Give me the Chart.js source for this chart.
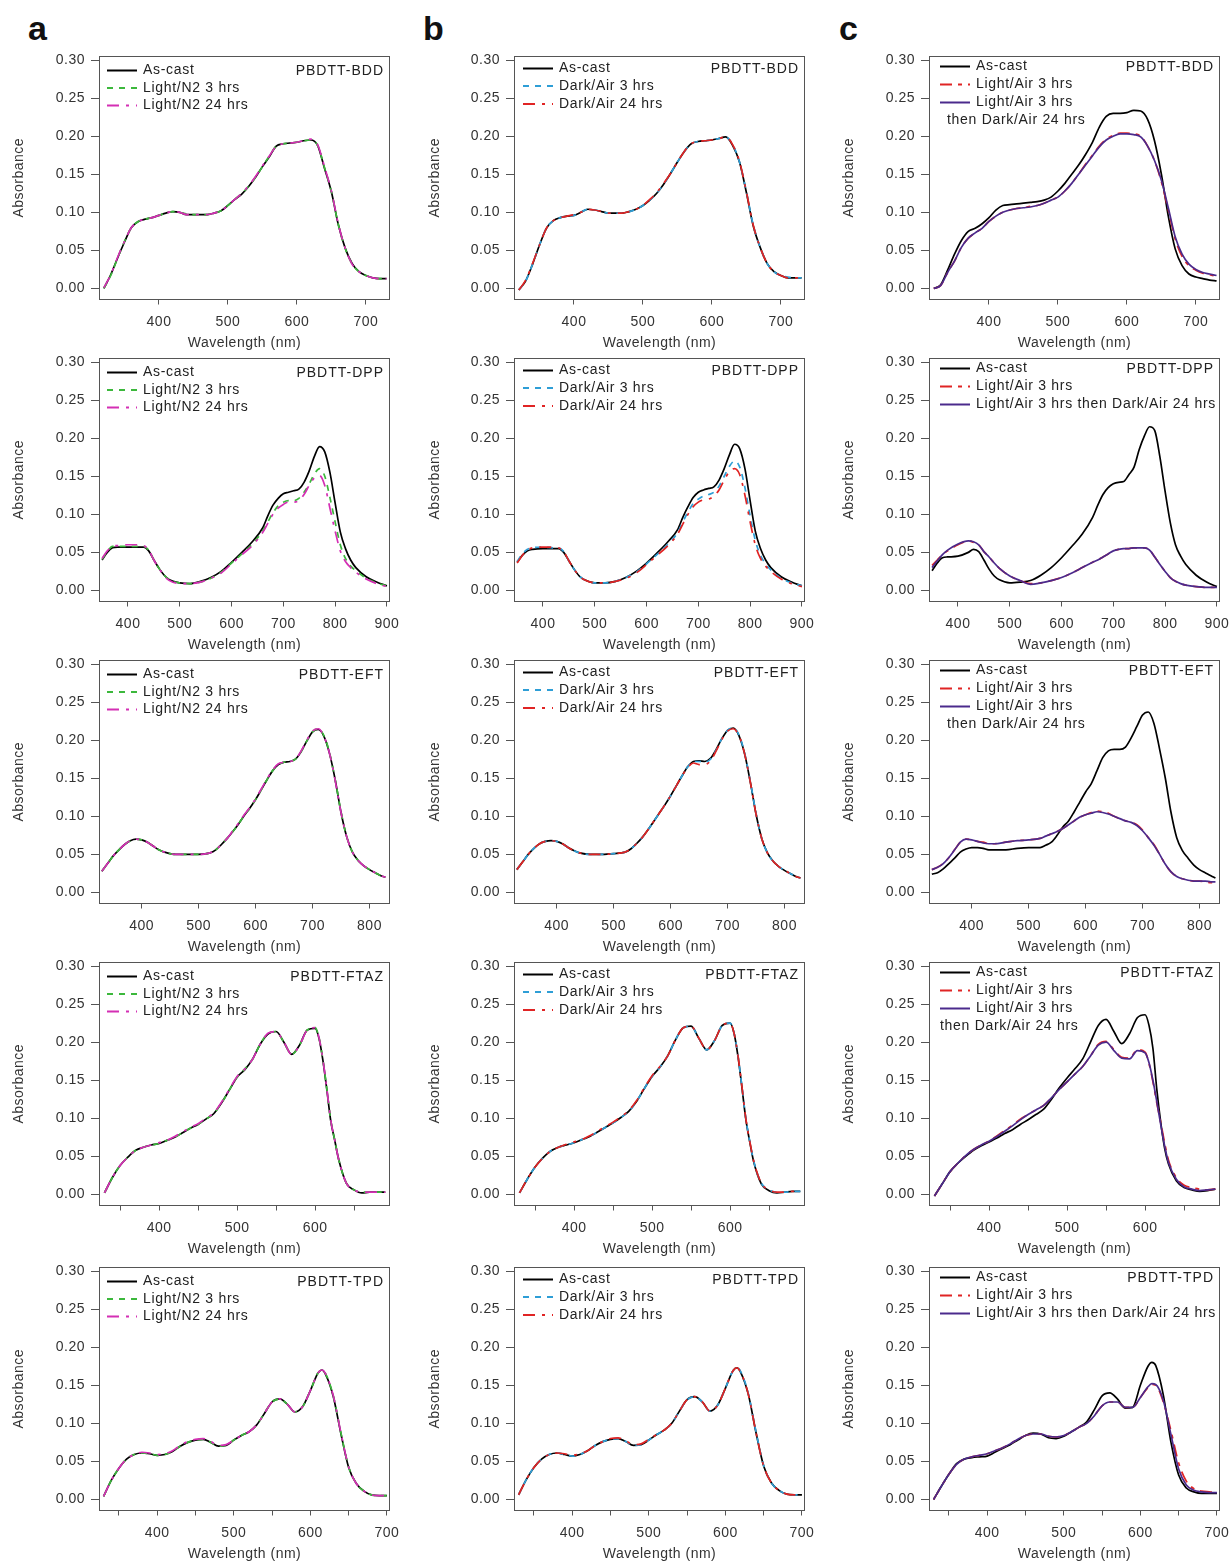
<!DOCTYPE html>
<html lang="en">
<head>
<meta charset="UTF-8">
<title>Absorbance spectra</title>
<script src="https://cdn.jsdelivr.net/npm/chart.js@4.4.0/dist/chart.umd.min.js"></script>
<style>
  body { margin:0; background:#fff; width:1229px; height:1562px; overflow:hidden; position:relative;
         font-family:"Liberation Sans", Arial, sans-serif; }
  .panel { position:absolute; }
  .tag { position:absolute; font-size:34px; font-weight:bold; line-height:1; color:#111; }
</style>
</head>
<body>
<div class="tag" style="left:28px;top:11px">a</div>
<div class="tag" style="left:423px;top:11px">b</div>
<div class="tag" style="left:839px;top:11px">c</div>

<script>
// ---- data ----
const yTicks = [0, 0.05, 0.10, 0.15, 0.20, 0.25, 0.30];

// PBDTT-BDD
const bddWl = [320,330,340,350,360,370,380,390,400,410,420,430,440,450,460,470,480,490,500,510,520,530,540,550,560,570,580,590,600,610,620,630,640,650,660,670,680,690,700,710,720,730];
const bddCastA = [0.000,0.018,0.040,0.061,0.080,0.088,0.091,0.093,0.096,0.099,0.101,0.100,0.097,0.097,0.097,0.097,0.099,0.102,0.109,0.117,0.124,0.134,0.146,0.160,0.173,0.187,0.190,0.191,0.192,0.194,0.195,0.188,0.158,0.127,0.084,0.053,0.033,0.022,0.017,0.014,0.013,0.013];
const bddN2h3  = [0.000,0.017,0.040,0.062,0.080,0.088,0.091,0.093,0.096,0.099,0.101,0.100,0.098,0.097,0.097,0.097,0.099,0.102,0.109,0.117,0.125,0.134,0.146,0.160,0.174,0.187,0.190,0.191,0.192,0.194,0.195,0.188,0.159,0.127,0.084,0.053,0.032,0.022,0.017,0.014,0.013,0.013];
const bddN2h24 = [0.001,0.018,0.041,0.062,0.080,0.088,0.091,0.093,0.096,0.099,0.101,0.100,0.097,0.097,0.097,0.097,0.099,0.102,0.109,0.117,0.125,0.135,0.147,0.161,0.174,0.187,0.190,0.191,0.192,0.194,0.196,0.189,0.160,0.128,0.085,0.053,0.032,0.022,0.017,0.014,0.013,0.013];
const bddCastB = [-0.002,0.010,0.032,0.057,0.079,0.089,0.093,0.095,0.096,0.100,0.104,0.103,0.101,0.099,0.099,0.099,0.101,0.104,0.109,0.116,0.125,0.137,0.151,0.166,0.180,0.190,0.193,0.194,0.195,0.197,0.199,0.188,0.166,0.126,0.082,0.054,0.033,0.022,0.017,0.014,0.014,0.014];
const bddAirH3 = [-0.002,0.010,0.032,0.057,0.079,0.089,0.093,0.095,0.096,0.100,0.104,0.103,0.101,0.099,0.099,0.099,0.101,0.104,0.109,0.116,0.125,0.137,0.151,0.166,0.180,0.190,0.193,0.194,0.195,0.197,0.199,0.189,0.166,0.127,0.083,0.054,0.033,0.022,0.017,0.015,0.014,0.014];
const bddAirH24 = [-0.002,0.011,0.033,0.057,0.079,0.089,0.093,0.095,0.097,0.100,0.104,0.103,0.101,0.099,0.099,0.099,0.101,0.104,0.109,0.117,0.126,0.138,0.151,0.166,0.180,0.190,0.193,0.194,0.195,0.197,0.199,0.189,0.167,0.127,0.083,0.054,0.033,0.022,0.017,0.014,0.014,0.014];
const bddCastC = [0.000,0.005,0.024,0.045,0.063,0.075,0.079,0.085,0.093,0.103,0.109,0.110,0.111,0.112,0.113,0.114,0.116,0.120,0.128,0.138,0.150,0.162,0.176,0.192,0.212,0.226,0.230,0.230,0.231,0.234,0.233,0.222,0.194,0.150,0.095,0.052,0.030,0.019,0.015,0.013,0.011,0.010];
const bddLightH3 = [0.000,0.004,0.021,0.036,0.054,0.066,0.073,0.079,0.088,0.095,0.100,0.103,0.105,0.106,0.108,0.109,0.112,0.116,0.120,0.128,0.138,0.150,0.163,0.175,0.187,0.196,0.201,0.204,0.204,0.203,0.200,0.187,0.168,0.140,0.103,0.065,0.042,0.030,0.024,0.020,0.018,0.016];
const bddLightDark = [0.000,0.004,0.021,0.036,0.054,0.066,0.073,0.079,0.088,0.095,0.100,0.103,0.105,0.106,0.107,0.109,0.112,0.116,0.120,0.128,0.138,0.150,0.162,0.174,0.186,0.195,0.200,0.203,0.203,0.202,0.199,0.187,0.168,0.142,0.106,0.068,0.045,0.032,0.025,0.021,0.019,0.017];

// PBDTT-DPP
const dppWl = [350,360,370,380,400,420,430,440,450,460,470,480,500,520,540,560,580,600,620,640,660,670,680,690,700,710,720,730,740,750,760,770,780,790,800,810,820,830,840,860,880,900];
const dppCastA = [0.040,0.050,0.056,0.057,0.057,0.057,0.057,0.052,0.040,0.029,0.020,0.014,0.010,0.009,0.012,0.017,0.025,0.037,0.050,0.064,0.082,0.098,0.112,0.121,0.127,0.129,0.131,0.133,0.142,0.157,0.176,0.189,0.182,0.155,0.115,0.077,0.055,0.040,0.030,0.018,0.011,0.006];
const dppN2h3  = [0.041,0.051,0.058,0.058,0.058,0.058,0.058,0.053,0.040,0.029,0.020,0.014,0.010,0.009,0.011,0.016,0.024,0.036,0.048,0.061,0.078,0.090,0.102,0.111,0.116,0.118,0.118,0.121,0.129,0.140,0.153,0.160,0.150,0.122,0.090,0.060,0.042,0.032,0.026,0.016,0.010,0.006];
const dppN2h24 = [0.042,0.052,0.058,0.059,0.060,0.060,0.059,0.053,0.040,0.029,0.019,0.013,0.009,0.009,0.011,0.016,0.023,0.035,0.047,0.059,0.076,0.088,0.100,0.108,0.113,0.116,0.116,0.118,0.126,0.138,0.148,0.151,0.138,0.108,0.078,0.052,0.038,0.030,0.024,0.015,0.009,0.005];
const dppCastB = [0.037,0.046,0.052,0.054,0.055,0.055,0.055,0.050,0.039,0.028,0.019,0.014,0.010,0.010,0.012,0.017,0.025,0.036,0.049,0.063,0.080,0.096,0.110,0.122,0.129,0.132,0.134,0.136,0.145,0.160,0.178,0.192,0.186,0.160,0.118,0.078,0.055,0.040,0.030,0.018,0.011,0.006];
const dppAirH3 = [0.038,0.048,0.054,0.056,0.057,0.056,0.056,0.051,0.039,0.028,0.019,0.014,0.010,0.010,0.012,0.017,0.024,0.035,0.047,0.060,0.076,0.090,0.103,0.114,0.120,0.124,0.126,0.129,0.137,0.150,0.163,0.170,0.162,0.135,0.098,0.066,0.046,0.035,0.027,0.016,0.010,0.006];
const dppAirH24 = [0.036,0.046,0.053,0.056,0.057,0.057,0.056,0.051,0.039,0.028,0.019,0.014,0.010,0.010,0.012,0.016,0.023,0.034,0.046,0.058,0.074,0.087,0.100,0.110,0.116,0.119,0.120,0.124,0.132,0.145,0.156,0.160,0.152,0.125,0.090,0.060,0.042,0.032,0.025,0.015,0.009,0.005];
const dppCastC = [0.026,0.036,0.043,0.044,0.045,0.050,0.054,0.051,0.040,0.028,0.019,0.014,0.010,0.011,0.013,0.020,0.030,0.043,0.058,0.074,0.096,0.112,0.126,0.135,0.140,0.142,0.143,0.152,0.162,0.185,0.203,0.215,0.210,0.175,0.130,0.089,0.060,0.045,0.034,0.020,0.011,0.005];
const dppLightH3 = [0.033,0.040,0.047,0.052,0.060,0.065,0.063,0.060,0.051,0.044,0.036,0.029,0.019,0.013,0.009,0.010,0.013,0.017,0.023,0.030,0.037,0.040,0.044,0.048,0.052,0.054,0.055,0.055,0.056,0.056,0.056,0.053,0.044,0.034,0.025,0.017,0.012,0.009,0.007,0.005,0.004,0.004];
const dppLightDark = [0.030,0.039,0.047,0.053,0.061,0.065,0.064,0.060,0.051,0.044,0.036,0.029,0.019,0.013,0.008,0.010,0.013,0.017,0.023,0.030,0.037,0.040,0.044,0.048,0.052,0.054,0.055,0.055,0.056,0.056,0.056,0.053,0.044,0.034,0.025,0.017,0.012,0.009,0.007,0.005,0.004,0.004];

// PBDTT-EFT
const eftWl = [330,340,350,360,370,380,390,400,410,420,430,440,460,480,500,520,530,540,550,560,570,580,590,600,610,620,630,640,650,660,670,680,690,700,710,720,730,740,750,760,770,780,790,800,810,820,828];
const eftCastA = [0.028,0.038,0.048,0.056,0.063,0.068,0.070,0.069,0.066,0.061,0.056,0.053,0.050,0.050,0.050,0.052,0.056,0.063,0.071,0.080,0.090,0.101,0.111,0.122,0.135,0.148,0.160,0.168,0.171,0.172,0.175,0.185,0.199,0.211,0.214,0.205,0.182,0.147,0.105,0.073,0.053,0.042,0.035,0.030,0.026,0.022,0.020];
const eftN2h3  = [0.028,0.038,0.048,0.056,0.063,0.068,0.070,0.069,0.066,0.061,0.056,0.053,0.050,0.050,0.050,0.052,0.056,0.063,0.071,0.080,0.090,0.101,0.111,0.122,0.135,0.148,0.160,0.168,0.171,0.172,0.175,0.185,0.199,0.211,0.215,0.206,0.183,0.147,0.106,0.073,0.053,0.042,0.035,0.030,0.026,0.022,0.020];
const eftN2h24 = [0.028,0.038,0.048,0.056,0.063,0.068,0.070,0.069,0.066,0.061,0.056,0.053,0.050,0.050,0.050,0.052,0.056,0.063,0.071,0.081,0.091,0.102,0.112,0.123,0.136,0.149,0.161,0.169,0.171,0.172,0.175,0.186,0.200,0.212,0.215,0.205,0.182,0.146,0.105,0.073,0.053,0.042,0.035,0.030,0.026,0.022,0.020];
const eftCastB = [0.030,0.040,0.050,0.058,0.064,0.067,0.068,0.067,0.064,0.059,0.055,0.052,0.050,0.050,0.051,0.053,0.057,0.064,0.072,0.082,0.093,0.104,0.115,0.127,0.140,0.153,0.165,0.172,0.173,0.172,0.176,0.188,0.202,0.213,0.216,0.206,0.182,0.145,0.103,0.071,0.052,0.041,0.034,0.029,0.025,0.021,0.019];
const eftAirH3 = [0.030,0.040,0.050,0.058,0.064,0.067,0.068,0.067,0.064,0.059,0.055,0.052,0.050,0.050,0.051,0.053,0.057,0.064,0.072,0.082,0.093,0.104,0.115,0.127,0.140,0.153,0.165,0.172,0.172,0.171,0.175,0.187,0.202,0.213,0.216,0.207,0.183,0.146,0.104,0.071,0.052,0.041,0.034,0.029,0.025,0.021,0.019];
const eftAirH24 = [0.030,0.040,0.050,0.058,0.064,0.067,0.068,0.067,0.064,0.059,0.055,0.052,0.050,0.050,0.051,0.053,0.057,0.064,0.072,0.082,0.093,0.104,0.115,0.127,0.140,0.153,0.164,0.170,0.168,0.168,0.173,0.186,0.201,0.212,0.215,0.206,0.182,0.145,0.103,0.071,0.052,0.041,0.034,0.029,0.025,0.021,0.019];
const eftCastC = [0.024,0.026,0.031,0.038,0.045,0.053,0.057,0.059,0.059,0.058,0.056,0.056,0.056,0.058,0.059,0.059,0.062,0.066,0.075,0.086,0.094,0.106,0.119,0.132,0.143,0.160,0.177,0.186,0.188,0.188,0.191,0.203,0.218,0.233,0.237,0.222,0.188,0.150,0.105,0.072,0.055,0.045,0.036,0.030,0.026,0.022,0.019];
const eftLightH3 = [0.030,0.033,0.038,0.046,0.056,0.066,0.070,0.069,0.067,0.066,0.064,0.064,0.066,0.068,0.069,0.071,0.074,0.077,0.080,0.084,0.089,0.094,0.099,0.102,0.105,0.107,0.106,0.104,0.100,0.097,0.094,0.092,0.089,0.082,0.072,0.063,0.050,0.037,0.027,0.021,0.018,0.016,0.015,0.015,0.014,0.013,0.013];
const eftLightDark = [0.030,0.033,0.038,0.046,0.056,0.066,0.070,0.069,0.067,0.065,0.064,0.064,0.066,0.068,0.069,0.071,0.074,0.077,0.080,0.084,0.089,0.094,0.099,0.102,0.104,0.106,0.105,0.103,0.100,0.097,0.094,0.092,0.088,0.081,0.072,0.062,0.050,0.037,0.027,0.021,0.018,0.016,0.015,0.015,0.015,0.014,0.014];

// PBDTT-FTAZ
const ftazWl = [330,340,350,360,370,380,390,400,410,420,430,440,450,460,470,480,490,500,510,520,530,540,550,560,570,580,590,600,605,610,615,620,625,630,640,650,660,670,680,690];
const ftazCastA = [0.002,0.022,0.038,0.049,0.058,0.062,0.065,0.067,0.071,0.075,0.081,0.087,0.092,0.099,0.106,0.120,0.137,0.154,0.164,0.178,0.198,0.211,0.214,0.200,0.184,0.196,0.216,0.218,0.205,0.176,0.138,0.097,0.072,0.047,0.015,0.006,0.002,0.003,0.003,0.003];
const ftazN2h3  = [0.002,0.022,0.038,0.049,0.058,0.062,0.065,0.067,0.071,0.075,0.081,0.087,0.092,0.099,0.106,0.120,0.137,0.154,0.165,0.178,0.198,0.212,0.214,0.200,0.184,0.196,0.216,0.219,0.206,0.177,0.139,0.098,0.072,0.047,0.015,0.006,0.003,0.003,0.003,0.003];
const ftazN2h24 = [0.002,0.022,0.038,0.049,0.058,0.062,0.065,0.068,0.071,0.076,0.082,0.088,0.093,0.100,0.107,0.121,0.138,0.155,0.165,0.178,0.198,0.212,0.214,0.200,0.184,0.196,0.216,0.219,0.206,0.177,0.139,0.098,0.072,0.047,0.015,0.006,0.003,0.003,0.003,0.003];
const ftazCastB = [0.002,0.020,0.036,0.048,0.057,0.062,0.065,0.068,0.072,0.076,0.082,0.088,0.094,0.101,0.109,0.122,0.139,0.155,0.167,0.182,0.203,0.219,0.221,0.205,0.190,0.202,0.222,0.225,0.212,0.182,0.142,0.100,0.070,0.044,0.014,0.005,0.002,0.003,0.004,0.004];
const ftazAirH3 = [0.002,0.020,0.036,0.048,0.057,0.062,0.065,0.068,0.072,0.076,0.082,0.088,0.094,0.101,0.109,0.122,0.139,0.155,0.167,0.182,0.203,0.219,0.221,0.205,0.190,0.202,0.222,0.225,0.212,0.183,0.143,0.101,0.071,0.045,0.015,0.006,0.003,0.003,0.004,0.004];
const ftazAirH24 = [0.002,0.020,0.036,0.048,0.057,0.062,0.066,0.069,0.072,0.077,0.083,0.089,0.095,0.102,0.110,0.123,0.140,0.156,0.168,0.182,0.203,0.219,0.221,0.205,0.190,0.202,0.222,0.225,0.212,0.183,0.143,0.101,0.071,0.045,0.015,0.006,0.003,0.003,0.004,0.004];
const ftazCastC = [-0.002,0.014,0.030,0.041,0.050,0.058,0.064,0.069,0.074,0.080,0.085,0.092,0.098,0.105,0.112,0.125,0.140,0.153,0.165,0.178,0.200,0.222,0.230,0.214,0.198,0.211,0.232,0.236,0.222,0.192,0.138,0.095,0.061,0.040,0.018,0.009,0.006,0.004,0.005,0.007];
const ftazLightH3 = [-0.002,0.014,0.030,0.041,0.051,0.059,0.065,0.070,0.077,0.084,0.091,0.099,0.105,0.111,0.117,0.127,0.138,0.148,0.158,0.168,0.182,0.197,0.201,0.190,0.180,0.179,0.190,0.187,0.172,0.148,0.120,0.095,0.068,0.045,0.022,0.012,0.009,0.007,0.006,0.007];
const ftazLightDark = [-0.002,0.014,0.030,0.041,0.051,0.059,0.065,0.070,0.076,0.083,0.090,0.098,0.105,0.111,0.117,0.127,0.138,0.148,0.158,0.168,0.182,0.196,0.200,0.189,0.179,0.178,0.189,0.186,0.173,0.150,0.122,0.092,0.064,0.042,0.020,0.010,0.007,0.005,0.006,0.007];

// PBDTT-TPD
const tpdWl = [330,340,350,360,370,380,390,400,410,420,430,440,450,460,470,480,490,500,510,520,530,540,550,560,570,580,590,600,610,615,620,630,640,650,660,670,680,690,700];
const tpdCastA = [0.004,0.025,0.041,0.053,0.059,0.061,0.060,0.058,0.059,0.063,0.070,0.075,0.078,0.079,0.075,0.070,0.071,0.078,0.084,0.089,0.098,0.113,0.128,0.132,0.125,0.115,0.122,0.143,0.166,0.170,0.164,0.135,0.086,0.042,0.021,0.011,0.006,0.005,0.005];
const tpdN2h3  = [0.004,0.025,0.041,0.053,0.059,0.061,0.060,0.058,0.059,0.063,0.070,0.075,0.078,0.079,0.075,0.070,0.071,0.078,0.084,0.089,0.098,0.113,0.128,0.132,0.125,0.115,0.122,0.143,0.166,0.170,0.165,0.136,0.087,0.043,0.021,0.011,0.006,0.005,0.005];
const tpdN2h24 = [0.004,0.025,0.041,0.053,0.059,0.062,0.061,0.059,0.060,0.064,0.071,0.076,0.079,0.080,0.076,0.071,0.072,0.078,0.084,0.089,0.098,0.113,0.128,0.132,0.125,0.115,0.122,0.143,0.166,0.170,0.165,0.136,0.087,0.043,0.021,0.011,0.006,0.005,0.005];
const tpdCastB = [0.006,0.026,0.042,0.053,0.059,0.061,0.059,0.057,0.059,0.064,0.071,0.076,0.079,0.080,0.076,0.071,0.072,0.078,0.085,0.091,0.100,0.116,0.131,0.135,0.128,0.116,0.124,0.146,0.169,0.173,0.167,0.138,0.088,0.044,0.022,0.012,0.007,0.006,0.006];
const tpdAirH3 = [0.006,0.026,0.042,0.053,0.059,0.061,0.059,0.057,0.059,0.064,0.071,0.076,0.079,0.080,0.076,0.071,0.072,0.078,0.085,0.091,0.100,0.116,0.131,0.135,0.128,0.116,0.124,0.146,0.169,0.173,0.168,0.139,0.089,0.045,0.022,0.012,0.007,0.006,0.006];
const tpdAirH24 = [0.006,0.026,0.042,0.053,0.059,0.061,0.060,0.058,0.060,0.064,0.071,0.076,0.080,0.081,0.077,0.072,0.073,0.079,0.085,0.091,0.100,0.116,0.131,0.135,0.128,0.116,0.124,0.146,0.169,0.173,0.167,0.138,0.088,0.044,0.022,0.012,0.007,0.006,0.006];
const tpdCastC = [0.000,0.017,0.033,0.047,0.053,0.055,0.056,0.057,0.062,0.067,0.072,0.078,0.084,0.087,0.086,0.081,0.080,0.083,0.089,0.095,0.102,0.118,0.136,0.140,0.132,0.120,0.121,0.150,0.175,0.180,0.176,0.137,0.075,0.032,0.015,0.010,0.008,0.008,0.008];
const tpdLightH3 = [0.000,0.017,0.033,0.046,0.053,0.056,0.058,0.060,0.064,0.068,0.073,0.079,0.084,0.086,0.086,0.083,0.082,0.084,0.089,0.095,0.100,0.110,0.123,0.128,0.128,0.121,0.121,0.134,0.147,0.151,0.150,0.128,0.090,0.048,0.024,0.014,0.011,0.010,0.009];
const tpdLightDark = [0.000,0.017,0.033,0.046,0.053,0.056,0.058,0.060,0.064,0.068,0.073,0.079,0.084,0.086,0.086,0.083,0.082,0.084,0.089,0.095,0.100,0.110,0.123,0.128,0.128,0.121,0.121,0.134,0.148,0.152,0.151,0.130,0.085,0.040,0.019,0.012,0.010,0.009,0.009];

// ---- layout of the 3 x 5 grid ----
const rowTops = [56, 358, 660, 962, 1267];
const colLeft = [0, 416, 830];
const boxLeft = [99, 514, 929];
const boxRight = [390, 805, 1220];

const black = { color: '#000', dash: [], width: 1.7 };
const colStyles = [
  [black, { color: '#3cb83c', dash: [6, 6], width: 1.7 }, { color: '#d42fb4', dash: [12, 7, 3, 7], width: 1.7 }],
  [black, { color: '#2e9ed6', dash: [6, 6], width: 1.7 }, { color: '#e02424', dash: [12, 7, 3, 7], width: 1.7 }],
  [black, { color: '#e02424', dash: [12, 6, 4, 6], width: 1.7 }, { color: '#4b2a8c', dash: [], width: 1.7 }]
];
const colLabels = [
  ['As-cast', 'Light/N2 3 hrs', 'Light/N2 24 hrs'],
  ['As-cast', 'Dark/Air 3 hrs', 'Dark/Air 24 hrs'],
  ['As-cast', 'Light/Air 3 hrs', 'Light/Air 3 hrs']
];
const legendPos = [
  { rows: [14.5, 32, 49.5], sx0: 8, sx1: 38, tx: 44 },
  { rows: [12.5, 30, 48], sx0: 9, sx1: 39, tx: 45 },
  { rows: [10.5, 28.5, 46.5, 64.5], sx0: 11, sx1: 41, tx: 47 }
];

const polymers = [
  { name: 'PBDTT-BDD', wl: bddWl, xr: [313, 735], ticks: [400, 500, 600, 700], labels: [400, 500, 600, 700],
    cols: [[bddCastA, bddN2h3, bddN2h24], [bddCastB, bddAirH3, bddAirH24], [bddCastC, bddLightH3, bddLightDark]], wrapX: 18 },
  { name: 'PBDTT-DPP', wl: dppWl, xr: [344, 906], ticks: [400, 500, 600, 700, 800, 900], labels: [400, 500, 600, 700, 800, 900],
    cols: [[dppCastA, dppN2h3, dppN2h24], [dppCastB, dppAirH3, dppAirH24], [dppCastC, dppLightH3, dppLightDark]], wrapX: null },
  { name: 'PBDTT-EFT', wl: eftWl, xr: [325, 836], ticks: [400, 500, 600, 700, 800], labels: [400, 500, 600, 700, 800],
    cols: [[eftCastA, eftN2h3, eftN2h24], [eftCastB, eftAirH3, eftAirH24], [eftCastC, eftLightH3, eftLightDark]], wrapX: 18 },
  { name: 'PBDTT-FTAZ', wl: ftazWl, xr: [323, 696], ticks: [350, 400, 450, 500, 550, 600, 650], labels: [400, 500, 600],
    cols: [[ftazCastA, ftazN2h3, ftazN2h24], [ftazCastB, ftazAirH3, ftazAirH24], [ftazCastC, ftazLightH3, ftazLightDark]], wrapX: 11 },
  { name: 'PBDTT-TPD', wl: tpdWl, xr: [324, 704], ticks: [350, 400, 450, 500, 550, 600, 650, 700], labels: [400, 500, 600, 700],
    cols: [[tpdCastA, tpdN2h3, tpdN2h24], [tpdCastB, tpdAirH3, tpdAirH24], [tpdCastC, tpdLightH3, tpdLightDark]], wrapX: null }
];

// frame, in-plot legend and polymer name
const panelInfo = {
  id: 'panelInfo',
  beforeDraw(chart) { chart.ctx.letterSpacing = '0.5px'; },
  afterDraw(chart, args, o) {
    const { ctx, chartArea: a } = chart;
    ctx.save();
    ctx.strokeStyle = '#555';
    ctx.lineWidth = 1;
    ctx.strokeRect(Math.round(a.left) + 0.5, Math.round(a.top) + 0.5,
                   Math.round(a.right - a.left) - 1, Math.round(a.bottom - a.top) - 1);
    ctx.font = '14px "Liberation Sans", Arial, sans-serif';
    ctx.fillStyle = '#222';
    ctx.textBaseline = 'middle';
    ctx.letterSpacing = '0.7px';
    o.items.forEach((it, i) => {
      const y = a.top + o.pos.rows[i];
      ctx.strokeStyle = it.color;
      ctx.lineWidth = 2;
      ctx.setLineDash(it.dash);
      ctx.beginPath();
      ctx.moveTo(a.left + o.pos.sx0, y);
      ctx.lineTo(a.left + o.pos.sx1, y);
      ctx.stroke();
      ctx.setLineDash([]);
      ctx.fillText(it.text, a.left + o.pos.tx, y);
    });
    if (o.extra) ctx.fillText(o.extra, a.left + o.extraX, a.top + o.pos.rows[3]);
    ctx.letterSpacing = '1px';
    ctx.textAlign = 'right';
    ctx.fillText(o.name, a.right - 6, a.top + o.pos.rows[0] + 1);
    ctx.restore();
  }
};

function makePanel(p, row, col) {
  const left = colLeft[col];
  const w = col === 2 ? 1229 - left : boxRight[col] + 10 - left;
  const h = 309;
  const holder = document.createElement('div');
  holder.className = 'panel';
  holder.style.left = left + 'px';
  holder.style.top = (rowTops[row] - 10) + 'px';
  const cv = document.createElement('canvas');
  cv.width = w; cv.height = h;
  cv.style.width = w + 'px'; cv.style.height = h + 'px';
  holder.appendChild(cv);
  document.body.appendChild(holder);

  const styles = colStyles[col];
  const series = p.cols[col];
  const datasets = series.map((vals, i) => ({
    data: p.wl.map((x, k) => ({ x: x, y: vals[k] })),
    borderColor: styles[i].color,
    borderWidth: styles[i].width,
    borderDash: styles[i].dash,
    pointRadius: 0,
    fill: false,
    cubicInterpolationMode: 'monotone',
    order: 3 - i
  }));

  let labels = colLabels[col].slice();
  let extra = null;
  if (col === 2) {
    if (p.wrapX === null) labels[2] = 'Light/Air 3 hrs then Dark/Air 24 hrs';
    else extra = 'then Dark/Air 24 hrs';
  }
  const items = labels.map((t, i) => ({ text: t, color: styles[i].color, dash: styles[i].dash }));
  const tickFont = { family: '"Liberation Sans", Arial, sans-serif', size: 14 };

  new Chart(cv, {
    type: 'line',
    data: { datasets: datasets },
    options: {
      responsive: false,
      animation: false,
      devicePixelRatio: 1,
      layout: { padding: { left: 0, right: w - (boxRight[col] - left), top: 10, bottom: 0 } },
      plugins: {
        legend: { display: false },
        tooltip: { enabled: false },
        panelInfo: { items: items, pos: legendPos[col], name: p.name, extra: extra, extraX: p.wrapX }
      },
      scales: {
        x: {
          type: 'linear', min: p.xr[0], max: p.xr[1],
          afterBuildTicks: s => { s.ticks = p.ticks.map(v => ({ value: v })); },
          afterFit: s => { s.height = 55.5; s.paddingLeft = 0; s.paddingRight = 0; },
          ticks: { autoSkip: false, maxRotation: 0, minRotation: 0, padding: 9, color: '#333', font: tickFont,
                   callback: v => p.labels.includes(v) ? String(v) : '' },
          grid: { display: true, drawOnChartArea: false, drawTicks: true, tickLength: 5, color: '#555' },
          border: { display: false },
          title: { display: true, text: 'Wavelength (nm)', color: '#333', font: tickFont, padding: { top: 0, bottom: 3 } }
        },
        y: {
          type: 'linear', min: -0.0145, max: 0.3053,
          afterBuildTicks: s => { s.ticks = yTicks.map(v => ({ value: v })); },
          afterFit: s => { s.width = boxLeft[col] - left; s.paddingTop = 0; s.paddingBottom = 0; },
          ticks: { padding: 6, color: '#333', font: tickFont, callback: v => v.toFixed(2) },
          grid: { display: true, drawOnChartArea: false, drawTicks: true, tickLength: 8, color: '#555' },
          border: { display: false },
          title: { display: true, text: 'Absorbance', color: '#333', font: tickFont, padding: { top: 11, bottom: 0 } }
        }
      }
    },
    plugins: [panelInfo]
  });
}

polymers.forEach((p, row) => {
  for (let col = 0; col < 3; col++) makePanel(p, row, col);
});
</script>
</body>
</html>
